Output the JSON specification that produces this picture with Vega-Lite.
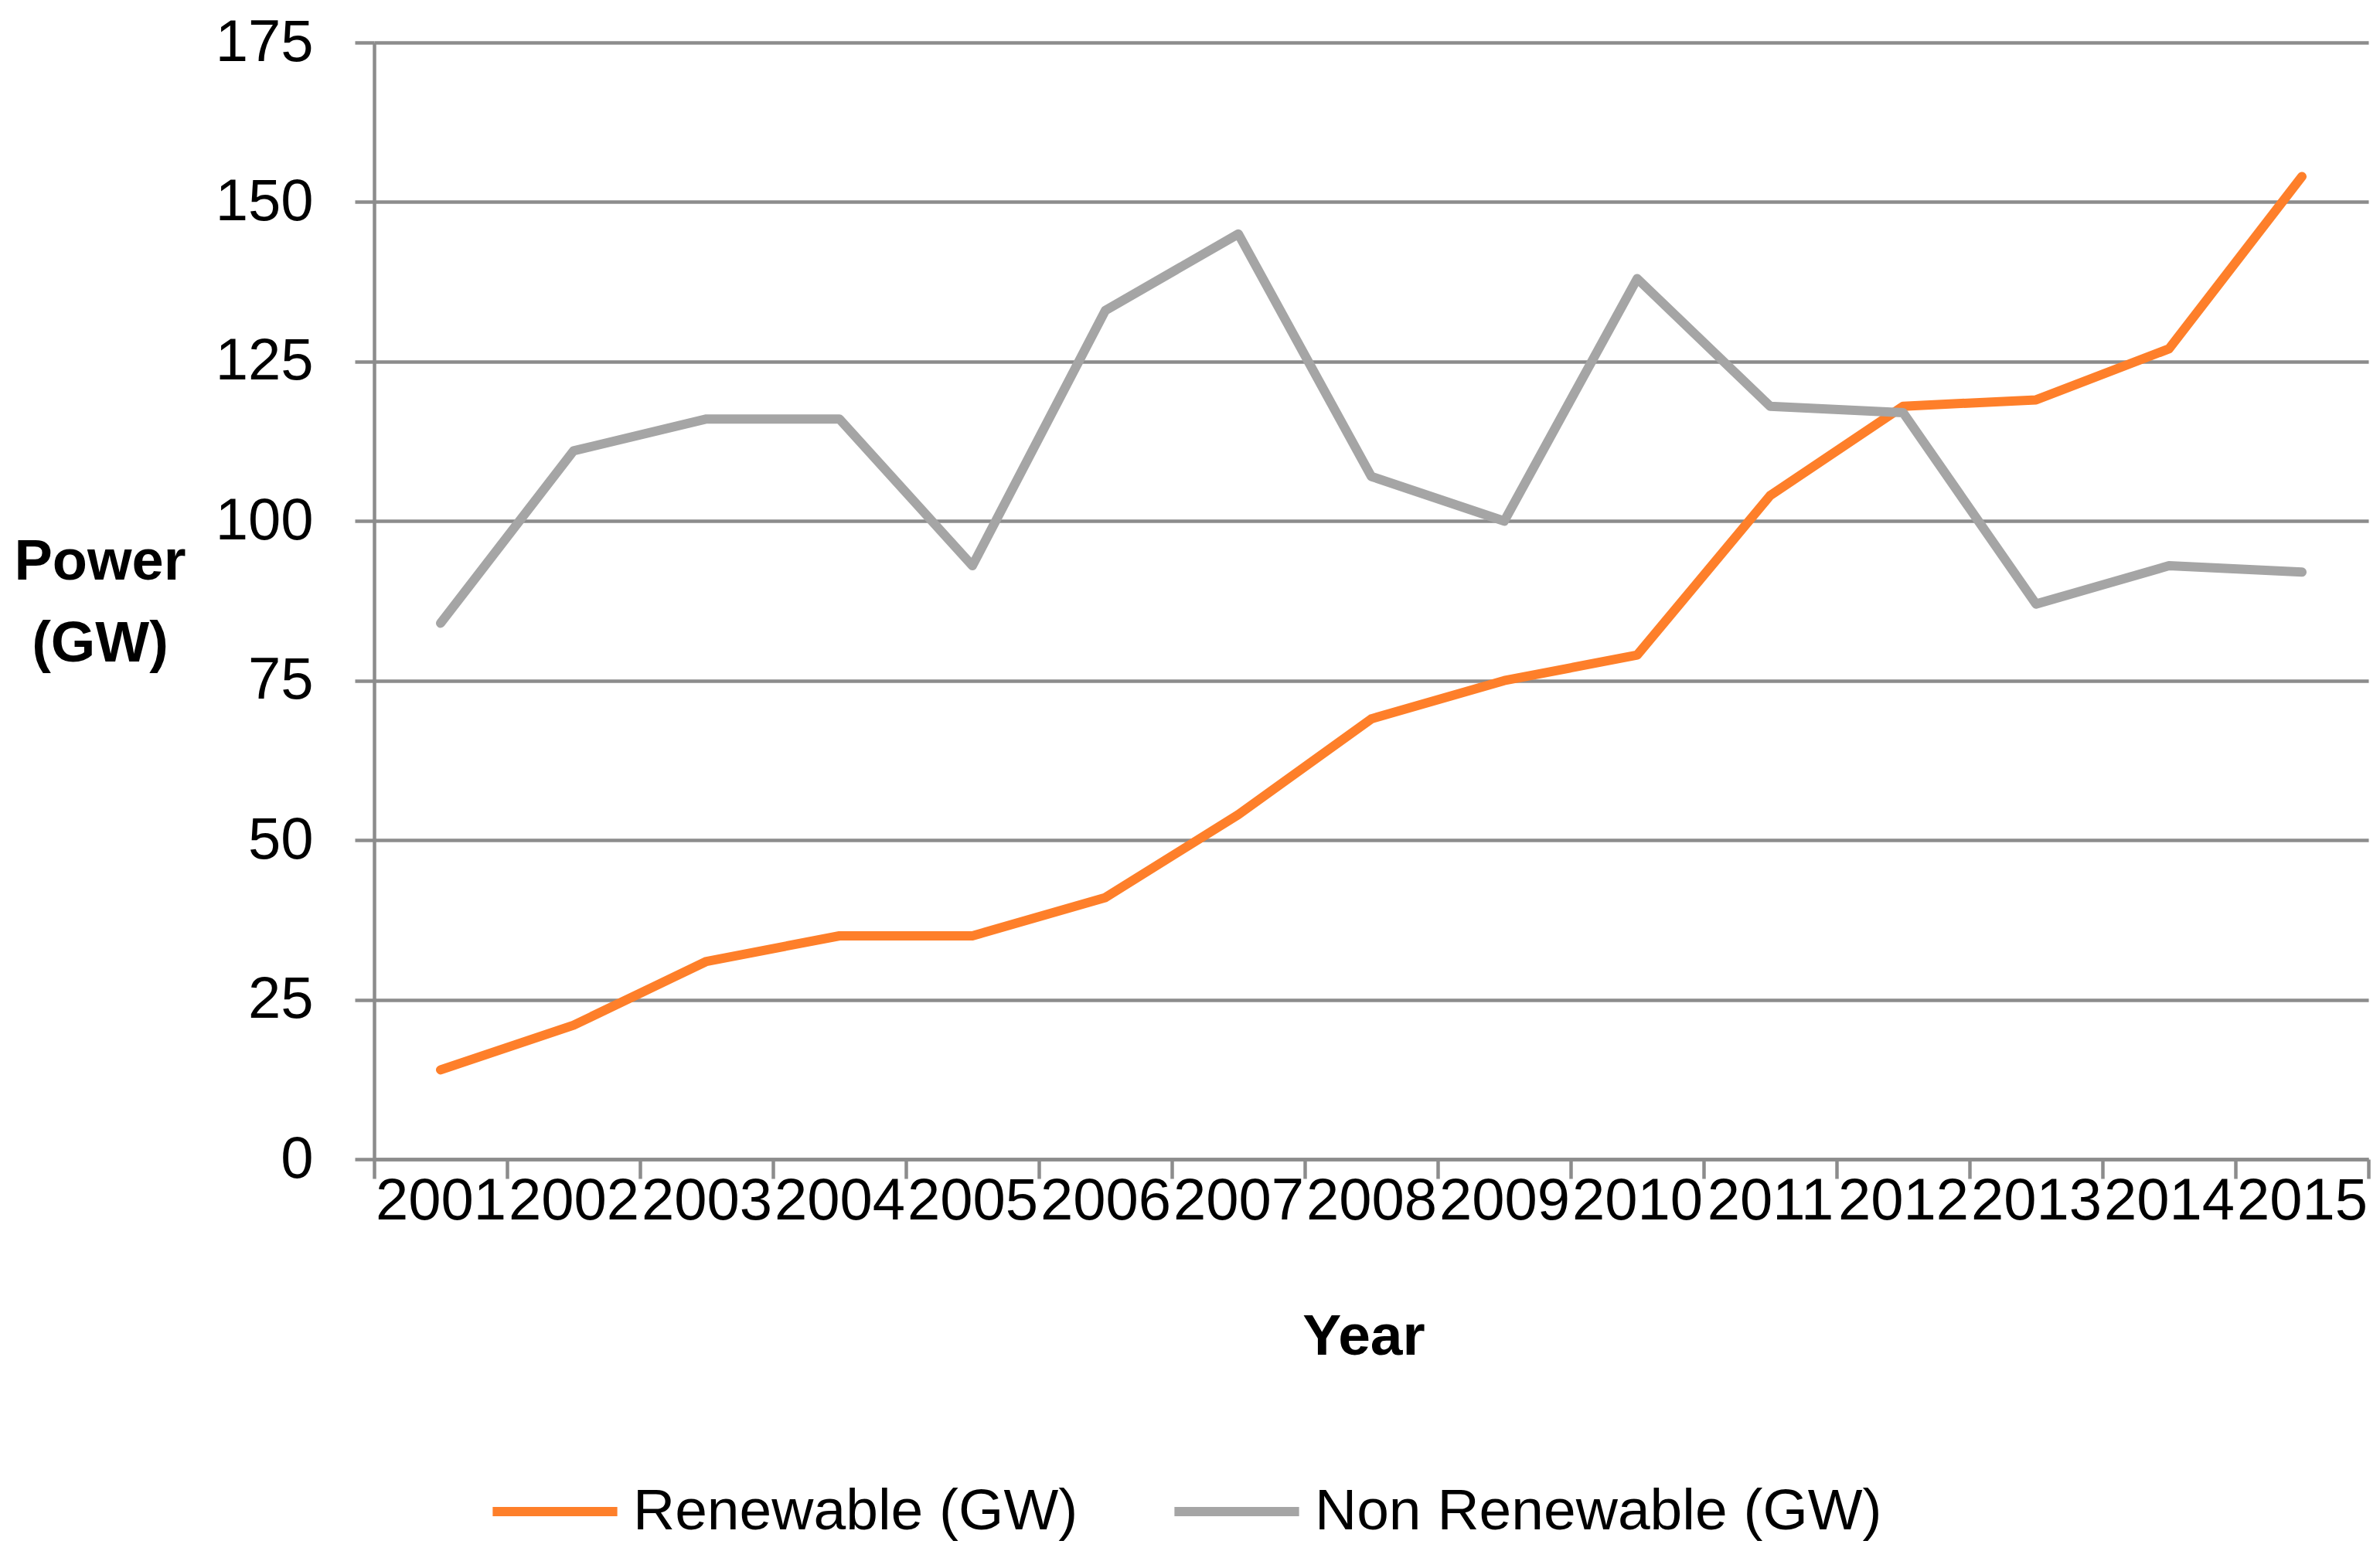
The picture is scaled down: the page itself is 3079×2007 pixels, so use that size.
{
  "$schema": "https://vega.github.io/schema/vega-lite/v6.json",
  "width": 2580,
  "height": 1445,
  "autosize": {"type": "none"},
  "padding": {"left": 484, "top": 55, "right": 15, "bottom": 507},
  "background": "white",
  "config": {"view": {"stroke": null}, "font": "Liberation Sans"},
  "data": {
    "values": [
      {"year": 2001, "series": "Renewable (GW)", "value": 14},
      {"year": 2002, "series": "Renewable (GW)", "value": 21},
      {"year": 2003, "series": "Renewable (GW)", "value": 31},
      {"year": 2004, "series": "Renewable (GW)", "value": 35},
      {"year": 2005, "series": "Renewable (GW)", "value": 35},
      {"year": 2006, "series": "Renewable (GW)", "value": 41},
      {"year": 2007, "series": "Renewable (GW)", "value": 54},
      {"year": 2008, "series": "Renewable (GW)", "value": 69},
      {"year": 2009, "series": "Renewable (GW)", "value": 75},
      {"year": 2010, "series": "Renewable (GW)", "value": 79},
      {"year": 2011, "series": "Renewable (GW)", "value": 104},
      {"year": 2012, "series": "Renewable (GW)", "value": 118},
      {"year": 2013, "series": "Renewable (GW)", "value": 119},
      {"year": 2014, "series": "Renewable (GW)", "value": 127},
      {"year": 2015, "series": "Renewable (GW)", "value": 154},
      {"year": 2001, "series": "Non Renewable (GW)", "value": 84},
      {"year": 2002, "series": "Non Renewable (GW)", "value": 111},
      {"year": 2003, "series": "Non Renewable (GW)", "value": 116},
      {"year": 2004, "series": "Non Renewable (GW)", "value": 116},
      {"year": 2005, "series": "Non Renewable (GW)", "value": 93},
      {"year": 2006, "series": "Non Renewable (GW)", "value": 133},
      {"year": 2007, "series": "Non Renewable (GW)", "value": 145},
      {"year": 2008, "series": "Non Renewable (GW)", "value": 107},
      {"year": 2009, "series": "Non Renewable (GW)", "value": 100},
      {"year": 2010, "series": "Non Renewable (GW)", "value": 138},
      {"year": 2011, "series": "Non Renewable (GW)", "value": 118},
      {"year": 2012, "series": "Non Renewable (GW)", "value": 117},
      {"year": 2013, "series": "Non Renewable (GW)", "value": 87},
      {"year": 2014, "series": "Non Renewable (GW)", "value": 93},
      {"year": 2015, "series": "Non Renewable (GW)", "value": 92}
    ]
  },
  "mark": {"type": "line", "strokeWidth": 12, "strokeCap": "round", "strokeJoin": "round"},
  "encoding": {
    "x": {
      "field": "year",
      "type": "quantitative",
      "scale": {"domain": [2000.5, 2015.5], "nice": false, "zero": false},
      "axis": {
        "title": "Year",
        "values": [2000.5, 2001.5, 2002.5, 2003.5, 2004.5, 2005.5, 2006.5, 2007.5, 2008.5, 2009.5, 2010.5, 2011.5, 2012.5, 2013.5, 2014.5, 2015.5],
        "labelExpr": "datum.value < 2015 ? toString(datum.value + 0.5) : ''",
        "labelOffset": 86,
        "labelFlush": false,
        "labelOverlap": false,
        "labelBound": false,
        "labelFontSize": 76,
        "labelColor": "#000000",
        "labelPadding": -8,
        "labelBaseline": "top",
        "tickSize": 25,
        "tickWidth": 4.5,
        "tickColor": "#8c8c8c",
        "domainColor": "#8c8c8c",
        "domainWidth": 4.5,
        "grid": false,
        "titleFontSize": 75,
        "titleFontWeight": "bold",
        "titleColor": "#000000",
        "titleX": 1280,
        "titleY": 229,
        "titleAlign": "center",
        "titleBaseline": "middle"
      }
    },
    "y": {
      "field": "value",
      "type": "quantitative",
      "scale": {"domain": [0, 175], "nice": false},
      "axis": {
        "title": ["Power", "(GW)"],
        "values": [0, 25, 50, 75, 100, 125, 150, 175],
        "labelFontSize": 76,
        "labelColor": "#000000",
        "labelPadding": 54,
        "labelBaseline": "middle",
        "tickSize": 25,
        "tickWidth": 4.5,
        "tickColor": "#8c8c8c",
        "domainColor": "#8c8c8c",
        "domainWidth": 4.5,
        "grid": true,
        "gridColor": "#8c8c8c",
        "gridWidth": 4.5,
        "titleAngle": 0,
        "titleFontSize": 74,
        "titleFontWeight": "bold",
        "titleColor": "#000000",
        "titleX": -355,
        "titleY": 672,
        "titleAlign": "center",
        "titleBaseline": "middle",
        "titleLineHeight": 106
      }
    },
    "color": {
      "field": "series",
      "type": "nominal",
      "scale": {"domain": ["Renewable (GW)", "Non Renewable (GW)"], "range": ["#FE7F2A", "#A5A5A5"]},
      "legend": {
        "title": null,
        "orient": "none",
        "direction": "horizontal",
        "legendX": 147,
        "legendY": 1814,
        "symbolType": "stroke",
        "symbolSize": 26000,
        "symbolStrokeWidth": 12,
        "labelFontSize": 75,
        "labelLimit": 2000,
        "labelColor": "#000000",
        "labelOffset": 14,
        "columnPadding": 100,
        "padding": 0
      }
    }
  }
}
